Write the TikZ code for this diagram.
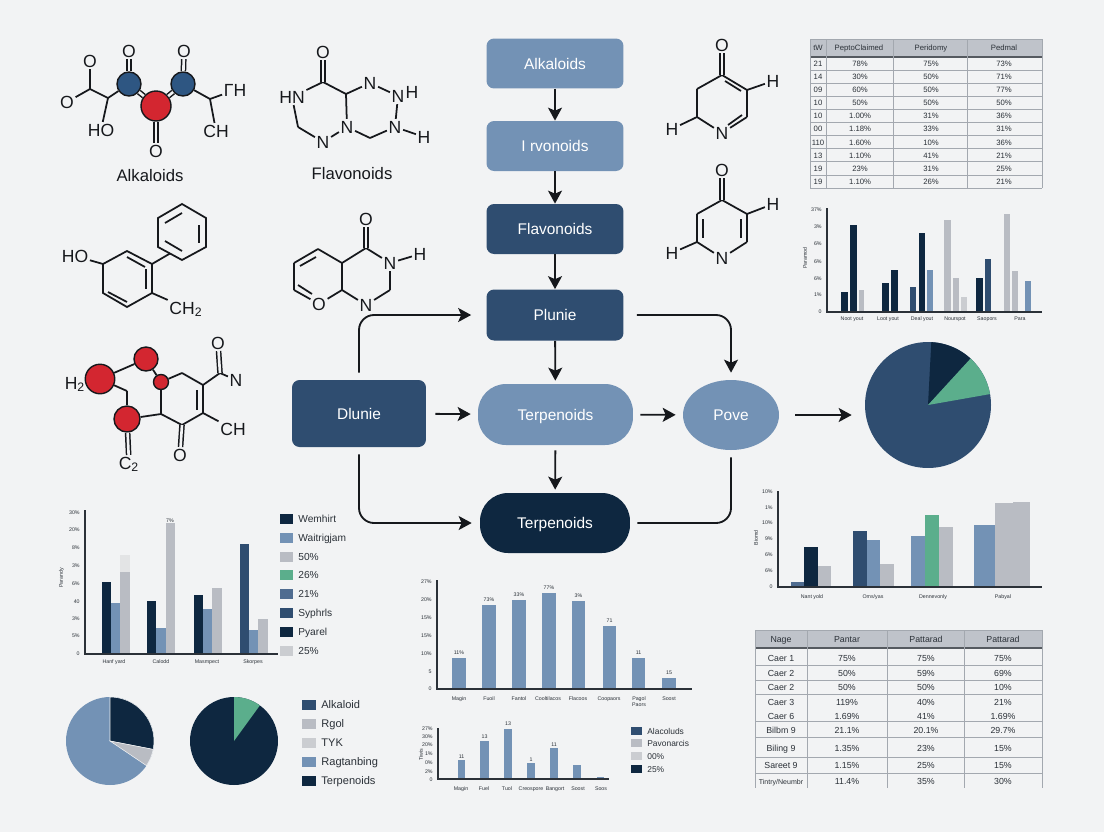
\documentclass[tikz,border=0pt]{standalone}
\usepackage{fontspec}
\setmainfont{Liberation Sans}
\usetikzlibrary{arrows.meta,shapes.geometric}

\definecolor{paper}{HTML}{F2F3F4}
\definecolor{ink}{HTML}{16181C}
\definecolor{tickink}{HTML}{2B3138}
\definecolor{navyc}{HTML}{0E2740}
\definecolor{deepc}{HTML}{2F4D70}
\definecolor{slatec}{HTML}{4F6C90}
\definecolor{bluec}{HTML}{7392B5}
\definecolor{grayc}{HTML}{B9BCC3}
\definecolor{lightc}{HTML}{CBCDD1}
\definecolor{greenc}{HTML}{5BAE8C}
\definecolor{redc}{HTML}{D32630}
\definecolor{atomblue}{HTML}{2E5682}
\definecolor{headc}{HTML}{BFC3CA}
\definecolor{rulec}{HTML}{A3A8AF}

\tikzset{
  flowbox/.style={rectangle,rounded corners=.15cm,inner sep=0,text=white,text height=6.3pt,text depth=0pt,font=\fontsize{8.8}{10}\selectfont},
  flowpill/.style={flowbox,rounded corners=.56cm},
  flowoval/.style={ellipse,inner sep=0,text=white,text height=6.3pt,text depth=0pt,font=\fontsize{8.8}{10}\selectfont},
  flowarrow/.style={draw=ink,line width=1.05pt,-{Stealth[length=2.6mm,width=2.8mm,inset=.6mm]}},
  flowline/.style={draw=ink,line width=1.05pt},
  bond/.style={draw=ink,line width=1pt},
  dblbond/.style={draw=ink,line width=.85pt,double=paper,double distance=1.5pt},
  atom/.style={inner sep=.8pt,text=ink,text height=7.2pt,text depth=0pt,font=\fontsize{10}{11}\selectfont},
  redatom/.style={circle,draw=ink,line width=.8pt,fill=redc,inner sep=0},
  blueatom/.style={circle,draw=ink,line width=.8pt,fill=atomblue,inner sep=0,minimum size=.48cm},
  namelabel/.style={inner sep=0,text=ink,text height=6.8pt,text depth=0pt,font=\fontsize{9.5}{11}\selectfont},
  axisline/.style={draw=tickink,line width=.7pt},
  ticktext/.style={inner sep=0,text=tickink,align=center,text height=2.2pt,text depth=0pt,font=\fontsize{3}{3.6}\selectfont},
  celltext/.style={inner sep=0,text=tickink,text height=3.2pt,text depth=0pt,font=\fontsize{4.4}{5}\selectfont},
  bigcell/.style={inner sep=0,text=tickink,text height=3.7pt,text depth=0pt,font=\fontsize{5}{6}\selectfont},
  swatch/.style={inner sep=0,minimum width=.27cm,minimum height=.2cm},
  legendtext/.style={inner sep=0,anchor=west,text=tickink,text height=4.2pt,text depth=0pt,font=\fontsize{5.8}{7}\selectfont},
  gridline/.style={draw=rulec,line width=.35pt},
  headline/.style={draw=tickink!80,line width=.6pt},
  piewedge/.style={draw=paper,line width=.3pt},
}

\begin{document}
\begin{tikzpicture}[x=.02cm,y=-.02cm]

        \fill[paper] (0,0) rectangle (1104,832);
        \useasboundingbox (0,0) rectangle (1104,832);

        % flow chart
        \node[flowbox,fill=bluec,minimum width=2.74cm,minimum height=1cm] (alk) at (555,63.5) {Alkaloids};
        \node[flowbox,fill=bluec,minimum width=2.74cm,minimum height=1cm] (ivo) at (555,146) {I rvonoids};
        \node[flowbox,fill=deepc,minimum width=2.74cm,minimum height=1cm] (fla) at (555,229) {Flavonoids};
        \node[flowbox,fill=deepc,minimum width=2.74cm,minimum height=1.02cm] (plu) at (555,315) {Plunie};
        \node[flowbox,fill=deepc,minimum width=2.68cm,minimum height=1.34cm] (dlu) at (359,413.5) {Dlunie};
        \node[flowpill,fill=bluec,minimum width=3.1cm,minimum height=1.22cm] (ter) at (555.5,414.5) {Terpenoids};
        \node[flowoval,fill=bluec,minimum width=1.92cm,minimum height=1.4cm] (pov) at (731,415) {Pove};
        \node[flowpill,fill=navyc,minimum width=3cm,minimum height=1.2cm] (trd) at (555,523) {Terpenoids};
        \node[circle,inner sep=0,fill=deepc,minimum size=2.52cm] (bigpie) at (928,405) {};

        \draw[flowarrow] (alk) -- (ivo);
        \draw[flowarrow] (ivo) -- (fla);
        \draw[flowarrow] (fla) -- (plu);
        \draw[flowarrow,shorten >=.06cm] (plu) -- (ter);
        \draw[flowarrow,shorten <=.1cm,shorten >=.06cm] (ter) -- (trd);
        \draw[flowarrow,shorten <=.18cm,shorten >=.14cm] (dlu) -- (ter);
        \draw[flowarrow,shorten <=.14cm,shorten >=.14cm] (ter) -- (pov);
        \draw[flowarrow,shorten <=.32cm,shorten >=.26cm] (pov.east) -- (bigpie.west |- pov.east);
        \draw[flowarrow,rounded corners=.3cm,shorten <=.14cm,shorten >=.3cm] (dlu.north) |- (plu.west);
        \draw[flowarrow,rounded corners=.3cm,shorten <=.14cm,shorten >=.16cm] (dlu.south) |- (trd.west);
        \draw[flowarrow,rounded corners=.3cm,shorten <=.26cm,shorten >=.14cm] (plu.east) -| (pov.north);
        \draw[flowline,rounded corners=.3cm,shorten <=.14cm,shorten >=.14cm] (trd.east) -| (pov.south);

        % first molecule, with the three balls
        \node[atom] (aO1) at (90,61) {O};
        \node[atom] (aO2) at (67,102) {O};
        \node[atom] (aHO) at (101,130) {HO};
        \node[atom] (aO3) at (129,51) {O};
        \node[atom] (aO4) at (184,51) {O};
        \node[atom] (aO5) at (156,151) {O};
        \node[atom] (aCH) at (216,131) {CH};
        \node[atom] (aPH) at (235,90) {ΓH};
        \coordinate (a1) at (90,89);
        \coordinate (a2) at (108,98);
        \coordinate (a3) at (210,99);
        \node[blueatom] (aL) at (129,84) {};
        \node[blueatom] (aR) at (183,84) {};
        \node[redatom,minimum size=.6cm] (aM) at (156,106) {};
        \foreach \p/\q in {aO1/a1,aO2/a1,a1/a2,a2/aHO,a2/aL,aR/a3,a3/aCH,a3/aPH}
          \draw[bond] (\p) -- (\q);
        \foreach \p/\q in {aL/aO3,aR/aO4,aM/aO5,aL/aM,aR/aM}
          \draw[dblbond] (\p) -- (\q);
        \node[namelabel] (aName) at (150,176) {Alkaloids};

        % second molecule
        \node[atom] (bO) at (323,52) {O};
        \node[atom] (bHN) at (292,97) {HN};
        \node[atom] (bN1) at (370,83) {N};
        \node[atom] (bN2) at (398,96) {N};
        \node[atom] (bH2) at (412,92) {H};
        \node[atom] (bN3) at (395,127) {N};
        \node[atom] (bH3) at (424,137) {H};
        \node[atom] (bN4) at (347,127) {N};
        \node[atom] (bN5) at (323,142) {N};
        \coordinate (b1) at (323,82);
        \coordinate (b2) at (346,94);
        \coordinate (b3) at (370,138);
        \coordinate (b4) at (298,127);
        \foreach \p/\q in {b1/bHN,b1/b2,b2/bN1,bN1/bN2,bN2/bN3,bN3/bH3,bN3/b3,b3/bN4,bN4/bN5,bN5/b4,b4/bHN,b2/bN4}
          \draw[bond] (\p) -- (\q);
        \draw[dblbond] (b1) -- (bO);
        \node[namelabel] (bName) at (352,174) {Flavonoids};

        % third molecule
        \foreach \n/\x/\y in {c1/182/204,c2/206/218,c3/206/247,c4/182/260,c5/158/247,c6/158/218,c7/170/253.5,
                              d1/103/264,d2/127/251,d3/152/264,d4/152/293,d5/127/307,d6/103/293}
          \coordinate (\n) at (\x,\y);
        \node[atom] (cHO) at (75,256) {HO};
        \node[atom] (cCH) at (186,308) {CH\textsubscript{2}};
        \draw[bond] (c1) -- (c2) -- (c3) -- (c4) -- (c5) -- (c6) -- cycle;
        \draw[bond] (d1) -- (d2) -- (d3) -- (d4) -- (d5) -- (d6) -- cycle;
        \draw[bond] (d3) -- (c7);
        \draw[bond] (d1) -- (cHO);
        \draw[bond] (d4) -- (cCH);
        \draw[bond] (165,223) -- (182,213);
        \draw[bond] (199,225) -- (199,243);
        \draw[bond] (165,241) -- (182,251);
        \draw[bond] (127,257) -- (145,267);
        \draw[bond] (146,269) -- (146,289);
        \draw[bond] (108,292) -- (127,302);

        % fourth molecule
        \node[atom] (eO) at (366,219) {O};
        \node[atom] (eN1) at (390,263) {N};
        \node[atom] (eH) at (420,254) {H};
        \node[atom] (eN2) at (366,305) {N};
        \node[atom] (eO2) at (319,304) {O};
        \foreach \n/\x/\y in {e1/366/248,e2/390/290,e3/342/290,e4/294/290,e5/294/263,e6/318/249,e7/342/263}
          \coordinate (\n) at (\x,\y);
        \foreach \p/\q in {e1/eN1,eN1/eH,eN1/e2,e2/eN2,eN2/e3,e3/eO2,eO2/e4,e4/e5,e5/e6,e6/e7,e7/e1,e7/e3}
          \draw[bond] (\p) -- (\q);
        \draw[dblbond] (e1) -- (eO);
        \draw[bond] (300,266) -- (316,257);
        \draw[bond] (298,285) -- (312,294);

        % fifth molecule, red balls
        \node[atom] (fH2) at (75,383) {H\textsubscript{2}};
        \node[atom] (fN) at (236,380) {N};
        \node[atom] (fCH) at (233,429) {CH};
        \node[atom] (fO) at (218,343) {O};
        \node[atom] (fO2) at (180,455) {O};
        \node[atom] (fC2) at (129,463) {C\textsubscript{2}};
        \node[redatom,minimum size=.59cm] (fR1) at (100,379) {};
        \node[redatom,minimum size=.48cm] (fR2) at (146,359) {};
        \node[redatom,minimum size=.3cm] (fR3) at (161,382) {};
        \node[redatom,minimum size=.52cm] (fR4) at (127,419) {};
        \foreach \n/\x/\y in {f1/127/391,f2/182/373,f3/203/385,f4/203/413,f5/182/425,f6/161/414,f7/220/373}
          \coordinate (\n) at (\x,\y);
        \foreach \p/\q in {fR1/fR2,fR2/fR3,fR1/f1,f1/fR4,fR3/f2,f2/f3,f4/f5,f5/f6,f6/fR3,f6/fR4,f3/f7,f7/fN,f4/fCH}
          \draw[bond] (\p) -- (\q);
        \foreach \p/\q in {f5/fO2,f7/fO,fR4/fC2}
          \draw[dblbond] (\p) -- (\q);
        \draw[bond] (f3) -- (f4);
        \draw[bond] (197,390) -- (197,410);

        % sixth molecule
        \node[atom] (gO) at (722,45) {O};
        \node[atom] (gH1) at (773,81) {H};
        \node[atom] (gN) at (722,133) {N};
        \node[atom] (gH2) at (672,129) {H};
        \foreach \n/\x/\y in {g1/722/75,g2/747/90,g3/747/117,g4/697/117,g5/697/89}
          \coordinate (\n) at (\x,\y);
        \foreach \p/\q in {g1/g2,g2/gH1,g2/g3,g3/gN,gN/g4,g4/gH2,g4/g5,g5/g1}
          \draw[bond] (\p) -- (\q);
        \draw[dblbond] (g1) -- (gO);
        \draw[bond] (725,81) -- (741,91);
        \draw[bond] (728,125) -- (742,115);

        % seventh molecule
        \node[atom] (hO) at (722,170) {O};
        \node[atom] (hH1) at (773,204) {H};
        \node[atom] (hN) at (722,258) {N};
        \node[atom] (hH2) at (672,253) {H};
        \foreach \n/\x/\y in {h1/722/200,h2/747/214,h3/747/242,h4/697/242,h5/697/214}
          \coordinate (\n) at (\x,\y);
        \foreach \p/\q in {h1/h2,h2/hH1,h2/h3,h3/hN,hN/h4,h4/hH2,h4/h5,h5/h1}
          \draw[bond] (\p) -- (\q);
        \draw[dblbond] (h1) -- (hO);
        \draw[bond] (741,219) -- (741,238);
        \draw[bond] (703,219) -- (703,238);

        % big pie
        \fill[navyc] (bigpie.center) -- ++(47.5:1.26cm) arc[start angle=47.5,end angle=87,radius=1.26cm] -- cycle;
        \fill[greenc] (bigpie.center) -- ++(10:1.26cm) arc[start angle=10,end angle=47.5,radius=1.26cm] -- cycle;

        % upper table
        \fill[headc] (810,39) rectangle (1042,57);
        \foreach \i in {1,...,9}
          \draw[gridline] (810,{57+13.1*\i}) -- (1042,{57+13.1*\i});
        \draw[headline] (810,57) -- (1042,57);
        \draw[gridline] (810,39) -- (1042,39);
        \draw[gridline] (810,188) -- (1042,188);
        \foreach \x in {810,826.5,893.5,967.5,1042}
          \draw[gridline] (\x,39) -- (\x,188);
        \node[celltext] (uh1) at (818,48) {tW};
        \node[celltext] (uh2) at (859,48) {PeptoClaimed};
        \node[celltext] (uh3) at (931,48) {Peridomy};
        \node[celltext] (uh4) at (1004,48) {Pedmal};
        \foreach \la/\ca/\cb/\cc [count=\i] in {
            21/78\%/75\%/73\%,14/30\%/50\%/71\%,09/60\%/50\%/77\%,
            10/50\%/50\%/50\%,10/1.00\%/31\%/36\%,00/1.18\%/33\%/31\%,
            110/1.60\%/10\%/36\%,13/1.10\%/41\%/21\%,19/23\%/31\%/25\%,
            19/1.10\%/26\%/21\%} {
          \node[celltext] (ua\i) at (818,{50.5+13.1*\i}) {\la};
          \node[celltext] (ub\i) at (860,{50.5+13.1*\i}) {\ca};
          \node[celltext] (uc\i) at (931,{50.5+13.1*\i}) {\cb};
          \node[celltext] (ud\i) at (1004,{50.5+13.1*\i}) {\cc};
        }

        % lower table
        \fill[headc] (755,630) rectangle (1042,648);
        \foreach \y in {665,680,694,721,737,757,773}
          \draw[gridline] (755,\y) -- (1042,\y);
        \draw[gridline] (755,630) -- (1042,630);
        \draw[headline] (755,648) -- (1042,648);
        \foreach \x in {755,807,887,964,1042}
          \draw[gridline] (\x,630) -- (\x,788);
        \node[bigcell] (vh1) at (781,639) {Nage};
        \node[bigcell] (vh2) at (847,639) {Pantar};
        \node[bigcell] (vh3) at (926,639) {Pattarad};
        \node[bigcell] (vh4) at (1003,639) {Pattarad};
        \foreach \la/\ca/\cb/\cc/\y [count=\i] in {
            Caer 1/75\%/75\%/75\%/658,Caer 2/50\%/59\%/69\%/673,Caer 2/50\%/50\%/10\%/687,
            Caer 3/119\%/40\%/21\%/702,Caer 6/1.69\%/41\%/1.69\%/716,Bilbm 9/21.1\%/20.1\%/29.7\%/730,
            Biling 9/1.35\%/23\%/15\%/748,Sareet 9/1.15\%/25\%/15\%/765,{\fontsize{4}{5}\selectfont Tintry/Neumbr}/11.4\%/35\%/30\%/781} {
          \node[bigcell] (va\i) at (781,\y) {\la};
          \node[bigcell] (vb\i) at (847,\y) {\ca};
          \node[bigcell] (vc\i) at (926,\y) {\cb};
          \node[bigcell] (vd\i) at (1003,\y) {\cc};
        }

        % chart, upper right
        \foreach \xa/\xb/\ytop/\colr in {841/848/292/navyc,850/857/225/navyc,859/864/290/grayc,
            882/889/283/navyc,891/898/270/navyc,910/916/287/deepc,919/925/233/navyc,927/933/270/bluec,
            944/951/220/grayc,953/959/278/grayc,961/967/297/lightc,976/983/278/navyc,985/991/259/deepc,
            1004/1010/214/grayc,1012/1018/271/grayc,1025/1031/281/bluec}
          \fill[\colr] (\xa,\ytop) rectangle (\xb,312);
        \draw[axisline] (827,208) -- (827,312) -- (1042,312);
        \foreach \t/\y [count=\i] in {37\%/210,3\%/227,6\%/244,6\%/262,6\%/279,1\%/295,0/312}
          \node[ticktext,anchor=east] (pt\i) at (822,\y) {\t};
        \foreach \t/\x [count=\i] in {Noot yout/852,Loot yout/888,Deal yout/922,Nourspot/955,Saopors/987,Para/1020}
          \node[ticktext] (px\i) at (\x,319) {\t};
        \node[ticktext,rotate=90] (pname) at (805,258) {Paramod};

        % chart, lower right
        \foreach \xa/\xb/\ytop/\colr in {791/804/582/slatec,804/818/547/navyc,818/831/566/grayc,
            853/867/531/deepc,867/880/540/bluec,880/894/564/grayc,911/925/536/bluec,925/939/515/greenc,
            939/953/527/grayc,974/995/525/bluec,995/1013/503/grayc,1013/1030/502/grayc}
          \fill[\colr] (\xa,\ytop) rectangle (\xb,587);
        \draw[axisline] (778,491) -- (778,587) -- (1042,587);
        \foreach \t/\y [count=\i] in {10\%/492,1\%/508,10\%/523,9\%/539,6\%/555,6\%/571,0/587}
          \node[ticktext,anchor=east] (qt\i) at (773,\y) {\t};
        \foreach \t/\x [count=\i] in {Nant yold/812,{Oms/yas}/873,Dennevonly/933,Pabyal/1003}
          \node[ticktext] (qx\i) at (\x,597) {\t};
        \node[ticktext,rotate=90] (qname) at (756,538) {Biomd};

        % chart, lower left
        \fill[paper!94!black] (120,555) rectangle (130,572);
        \foreach \xa/\xb/\ytop/\colr in {102/111/582/navyc,111/120/603/bluec,120/130/572/grayc,
            147/156/601/navyc,156/166/628/bluec,166/175/523/grayc,194/203/595/navyc,203/212/609/bluec,
            212/222/588/grayc,240/249/544/deepc,249/258/630/bluec,258/268/619/grayc}
          \fill[\colr] (\xa,\ytop) rectangle (\xb,654);
        \draw[axisline] (85,510) -- (85,654) -- (278,654);
        \foreach \t/\y [count=\i] in {30\%/513,20\%/530,8\%/548,3\%/566,6\%/584,40/602,3\%/619,5\%/636,0/654}
          \node[ticktext,anchor=east] (rt\i) at (80,\y) {\t};
        \foreach \t/\x [count=\i] in {Hanf yard/114,Calodd/161,Masmpect/207,Skorpes/253}
          \node[ticktext] (rx\i) at (\x,662) {\t};
        \node[ticktext,rotate=90] (rname) at (61,578) {Parandy};
        \node[ticktext] (rtop) at (170,521) {7\%};
        \foreach \t/\y/\colr [count=\i] in {Wemhirt/519/navyc,Waitrigjam/538/bluec,50\%/557/grayc,26\%/575/greenc,
            21\%/594/slatec,Syphrls/613/deepc,Pyarel/632/navyc,25\%/651/lightc} {
          \node[swatch,fill=\colr] (rs\i) at (286.5,\y) {};
          \node[legendtext] (rl\i) at (298,\y) {\t};
        }

        % two pies, lower left
        \node[circle,inner sep=0,fill=bluec,minimum size=1.76cm] (lpie) at (110,741) {};
        \node[circle,inner sep=0,fill=navyc,minimum size=1.76cm] (rpie) at (234,741) {};
        \fill[navyc,piewedge] (lpie.center) -- ++(-11:.88cm) arc[start angle=-11,end angle=90,radius=.88cm] -- cycle;
        \fill[grayc,piewedge] (lpie.center) -- ++(-34:.88cm) arc[start angle=-34,end angle=-11,radius=.88cm] -- cycle;
        \fill[greenc] (rpie.center) -- ++(54:.88cm) arc[start angle=54,end angle=90,radius=.88cm] -- cycle;
        \foreach \t/\y/\colr [count=\i] in {Alkaloid/705/deepc,Rgol/724/grayc,TYK/743/lightc,Ragtanbing/762/bluec,Terpenoids/781/navyc} {
          \node[swatch,fill=\colr,minimum width=.28cm] (ss\i) at (309,\y) {};
          \node[legendtext,text height=4.5pt,font=\fontsize{6.3}{7}\selectfont] (sl\i) at (321,\y) {\t};
        }

        % chart, centre
        \foreach \xa/\xb/\ytop/\t/\x [count=\i] in {452/466/658/11\%/459,482/496/605/73\%/489,512/526/600/33\%/519,
            542/556/593/77\%/549,572/585/601/3\%/578.5,603/616/626/71/609.5,632/645/658/11/638.5,662/676/678/15/669} {
          \fill[bluec] (\xa,\ytop) rectangle (\xb,689);
          \node[ticktext,anchor=south] (mv\i) at (\x,{\ytop-3}) {\t};
        }
        \draw[axisline] (437,580) -- (437,689) -- (692,689);
        \foreach \t/\y [count=\i] in {27\%/582,20\%/600,15\%/618,15\%/636,10\%/654,5/672,0/689}
          \node[ticktext,anchor=east] (mt\i) at (432,\y) {\t};
        \foreach \t/\x [count=\i] in {Magin/459,Fuoil/489,Fantol/519,Cooltilacos/548,Flacoos/578,Coopaors/609,Pagol/639,Soost/669}
          \node[ticktext] (mx\i) at (\x,699) {\t};
        \node[ticktext] (mxa) at (639,705) {Paors};

        % chart, small one
        \foreach \xa/\xb/\ytop in {450/457/778,458/465/760,480/489/741,504/512/729,527/535/763,550/558/748,573/581/765,597/604/777}
          \fill[bluec] (\xa,\ytop) rectangle (\xb,779);
        \draw[axisline] (438,728) -- (438,779) -- (609,779);
        \foreach \t/\y [count=\i] in {27\%/729,30\%/737,20\%/745,1\%/754,0\%/763,2\%/772,0/780}
          \node[ticktext,anchor=east] (nt\i) at (433,\y) {\t};
        \foreach \t/\x [count=\i] in {Magin/461,Fuel/484,Tuol/507,Creospore/531,Bangort/555,Soost/578,Soos/601}
          \node[ticktext] (nx\i) at (\x,789) {\t};
        \foreach \t/\x/\y [count=\i] in {11/461.5/757,13/484.5/737,13/508/724,1/531/760,11/554/745}
          \node[ticktext] (nv\i) at (\x,\y) {\t};
        \node[ticktext,rotate=90] (nname) at (421,755) {Tiwis};
        \foreach \t/\y/\colr [count=\i] in {Alacoluds/731/deepc,Pavonarcis/743/grayc,00\%/756/lightc,25\%/769/navyc} {
          \node[swatch,fill=\colr,minimum width=.22cm,minimum height=.15cm] (ns\i) at (636.5,\y) {};
          \node[legendtext,text height=3.4pt,font=\fontsize{4.8}{6}\selectfont] (nl\i) at (647,\y) {\t};
        }

      \end{tikzpicture}
\end{document}
